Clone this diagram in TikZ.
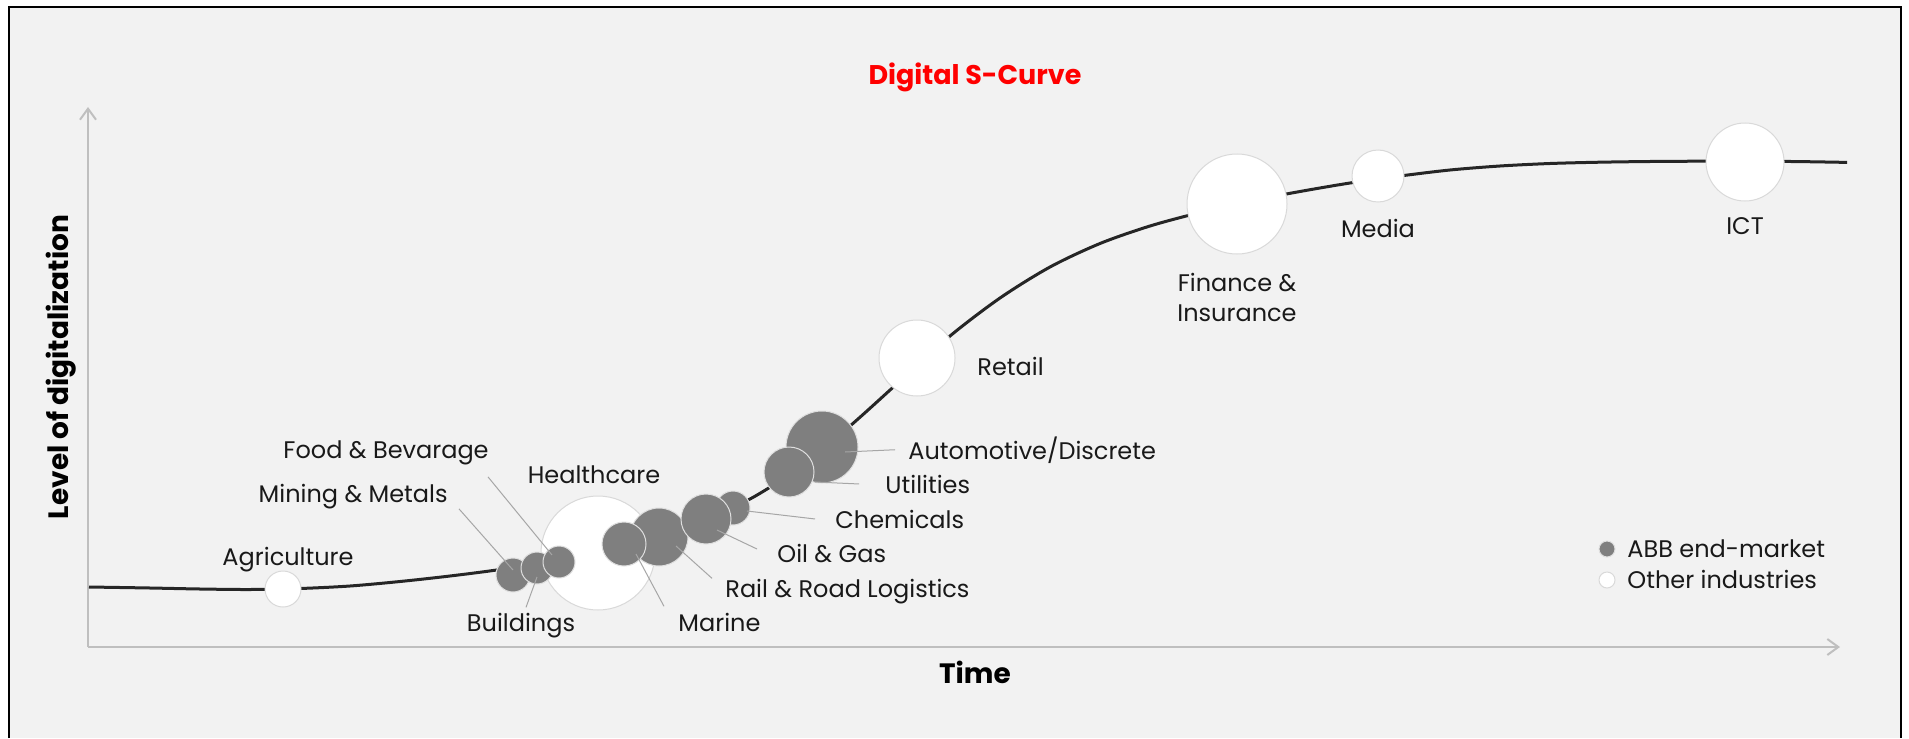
\documentclass[tikz,border=0pt]{standalone}
\usepackage{fontspec}
\setmainfont{Poppins}
\usetikzlibrary{arrows.meta}
\definecolor{panel}{HTML}{F2F2F2}
\definecolor{bubblegrey}{HTML}{7F7F7F}
\definecolor{bubbleedge}{HTML}{D9D9D9}
\definecolor{curveline}{HTML}{262626}
\definecolor{leaderline}{HTML}{A6A6A6}
\definecolor{axisline}{HTML}{BFBFBF}
\definecolor{titlered}{HTML}{FF0000}
\begin{document}
\begin{tikzpicture}[x=0.5pt, y=-0.5pt,
    abb/.style={circle, fill=bubblegrey, draw=white!75!bubblegrey, line width=0.5pt, inner sep=0pt},
    other/.style={circle, fill=white, draw=bubbleedge, line width=0.5pt, inner sep=0pt},
    lbl/.style={inner sep=0pt, font=\fontsize{12}{15}\selectfont, text=black!90},
    axlbl/.style={inner sep=0pt, font=\fontsize{14}{16}\selectfont\bfseries},
    leader/.style={draw=leaderline, line width=0.5pt},
    axis/.style={draw=axisline, line width=1pt, -{Straight Barb[length=5.5pt, width=8pt]}}]
    \useasboundingbox (0,0) rectangle (1909,738);
    \fill[panel] (9,7) rectangle (1901,738);
    \draw[line width=0.9pt] (9,738) -- (9,7) -- (1901,7) -- (1901,738);

    \node[font=\fontsize{13.5}{16}\selectfont\bfseries, text=titlered, anchor=base] (title) at (975,85) {Digital S-Curve};

    % axes
    \coordinate (origin) at (88,647);
    \coordinate (ytip) at (88,107);
    \coordinate (xtip) at (1840,647);
    \draw[axis] (origin) -- (ytip);
    \draw[axis] (origin) -- (xtip);
    \node[axlbl, rotate=90, anchor=base] (ylbl) at (68,367) {Level of digitalization};
    \node[axlbl, anchor=base] (xlbl) at (975,683) {Time};

    % the S-curve
    \draw[curveline, line width=1.5pt] plot[smooth, tension=0.5] coordinates {
        (89,587) (150,588) (200,589) (250,589.5) (300,588.5) (350,586) (400,581.5)
        (450,576) (500,569.5) (550,561) (600,550.5) (650,537.5) (700,520.5)
        (750,499) (800,467) (850,426) (900,381) (950,336) (1000,298) (1050,267)
        (1100,243.5) (1150,226) (1200,212.5) (1250,201) (1300,191.5) (1350,183)
        (1400,176) (1450,170) (1500,166) (1550,163.5) (1600,162.2) (1650,161.5)
        (1700,161.2) (1750,161.2) (1800,161.6) (1847,162.4)};

    % bubbles
    \node[other, minimum size=18pt] (agri) at (283,589) {};
    \node[other, minimum size=57pt] (health) at (598,553) {};
    \node[other, minimum size=38pt] (retail) at (917,358) {};
    \node[other, minimum size=50pt] (finance) at (1237,204) {};
    \node[other, minimum size=26pt] (media) at (1378,176) {};
    \node[other, minimum size=39pt] (ict) at (1745,162) {};
    \node[abb, minimum size=29pt] (rail) at (659,537) {};
    \node[abb, minimum size=22pt] (marine) at (624,544) {};
    \node[abb, minimum size=17pt] (chem) at (733,508) {};
    \node[abb, minimum size=25pt] (oil) at (706,519) {};
    \node[abb, minimum size=36pt] (auto) at (822,447) {};
    \node[abb, minimum size=25pt] (util) at (789,472) {};
    \node[abb, minimum size=17pt] (mining) at (513,575) {};
    \node[abb, minimum size=16pt] (bldg) at (537,568) {};
    \node[abb, minimum size=16pt] (food) at (559,562) {};

    % labels
    \node[lbl, anchor=base] (agrilbl) at (288,565) {Agriculture};
    \node[lbl, anchor=base east] (foodlbl) at (489,458) {Food \& Bevarage};
    \node[lbl, anchor=base east] (mininglbl) at (448,502) {Mining \& Metals};
    \node[lbl, anchor=base] (healthlbl) at (594,483) {Healthcare};
    \node[lbl, anchor=base] (bldglbl) at (521,631) {Buildings};
    \node[lbl, anchor=base west] (marinelbl) at (678,631) {Marine};
    \node[lbl, anchor=base west] (raillbl) at (725,597) {Rail \& Road Logistics};
    \node[lbl, anchor=base west] (oillbl) at (777,562) {Oil \& Gas};
    \node[lbl, anchor=base west] (chemlbl) at (835,528) {Chemicals};
    \node[lbl, anchor=base west] (utillbl) at (885,493) {Utilities};
    \node[lbl, anchor=base west] (autolbl) at (908,459) {Automotive/Discrete};
    \node[lbl, anchor=base west] (retaillbl) at (977,375) {Retail};
    \node[lbl, anchor=north, align=center] (financelbl) at (1237,273) {Finance \&\\Insurance};
    \node[lbl, anchor=base] (medialbl) at (1378,237) {Media};
    \node[lbl, anchor=base] (ictlbl) at (1745,234) {ICT};

    % leaders
    \coordinate (foodtip) at (552,555);
    \coordinate (miningtip) at (513,570);
    \coordinate (bldgtip) at (537,577);
    \coordinate (marinetip) at (636,554);
    \coordinate (railtip) at (676,546);
    \coordinate (oiltip) at (717,530);
    \coordinate (chemtip) at (747,511);
    \coordinate (utiltip) at (815,482);
    \coordinate (autotip) at (845,452);
    \draw[leader] (foodtip) -- ([shift={(-0.5pt,-6pt)}]foodlbl.south east);
    \draw[leader] (miningtip) -- ([xshift=5.5pt]mininglbl.south east);
    \draw[leader] (bldgtip) -- ([shift={(2.5pt,2.5pt)}]bldglbl.north);
    \draw[leader] (marinetip) -- ([shift={(-7pt,3pt)}]marinelbl.north west);
    \draw[leader] (railtip) -- ([xshift=-6.5pt]raillbl.north west);
    \draw[leader] (oiltip) -- ([shift={(-10pt,2pt)}]oillbl.west);
    \draw[leader] (chemtip) -- ([xshift=-10pt]chemlbl.west);
    \draw[leader] (utiltip) -- ([xshift=-13pt]utillbl.west);
    \draw[leader] (autotip) -- ([xshift=-6.5pt]autolbl.west);

    % legend
    \node[abb, minimum size=8pt] (abbdot) at (1607,549) {};
    \node[other, minimum size=8pt] (otherdot) at (1607,580) {};
    \node[lbl, anchor=base west] (abbkey) at (1627,557) {ABB end-market};
    \node[lbl, anchor=base west] (otherkey) at (1627,588) {Other industries};
\end{tikzpicture}
\end{document}
